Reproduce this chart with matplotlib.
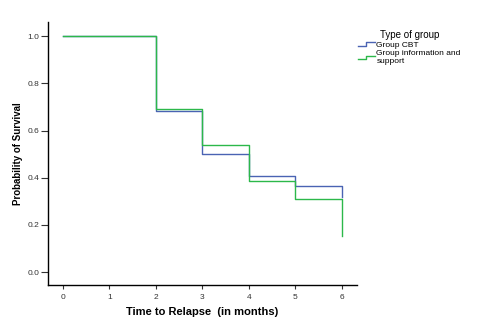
import matplotlib
matplotlib.use("Agg")
import matplotlib.pyplot as plt
from matplotlib.lines import Line2D
from matplotlib.legend_handler import HandlerBase

plt.rcParams['font.family'] = ['Liberation Sans', 'DejaVu Sans']

# Kaplan-Meier survival steps (time in months)
times = [0, 2, 3, 4, 5, 6]
surv_cbt = [1.0, 0.682, 0.500, 0.409, 0.364, 0.318]
surv_info = [1.0, 0.692, 0.538, 0.385, 0.308, 0.154]

groups = ["Group CBT", "Group information and\nsupport"]
colors = ["#4a63b3", "#2cb84a"]

x_ticks = [0, 1, 2, 3, 4, 5, 6]
y_ticks = [0.0, 0.2, 0.4, 0.6, 0.8, 1.0]


def step_xy(t, s):
    xs, ys = [t[0]], [s[0]]
    for i in range(1, len(t)):
        xs += [t[i], t[i]]
        ys += [s[i - 1], s[i]]
    return xs, ys


class StepHandler(HandlerBase):
    def create_artists(self, legend, orig, xd, yd, w, h, fontsize, trans):
        xs = [xd, xd + w * 0.5, xd + w * 0.5, xd + w]
        ys = [yd + h * 0.1, yd + h * 0.1, yd + h * 0.75, yd + h * 0.75]
        ln = Line2D(xs, ys, color=orig.get_color(), lw=1.0, transform=trans)
        return [ln]


fig = plt.figure(figsize=(4.79, 3.25), dpi=100)
ax = fig.add_axes([0.100, 0.123, 0.645, 0.809])

handles = []
for surv, c, name in zip([surv_cbt, surv_info], colors, groups):
    xs, ys = step_xy(times, surv)
    ln, = ax.plot(xs, ys, color=c, lw=1.0, label=name)
    handles.append(ln)

ax.set_xlim(-0.32, 6.32)
ax.set_ylim(-0.055, 1.06)
ax.set_xticks(x_ticks)
ax.set_yticks(y_ticks)
ax.set_yticklabels([f"{v:.1f}" for v in y_ticks])
ax.tick_params(axis='both', labelsize=6, colors='#333333', length=3, width=0.8)
ax.tick_params(axis='y', length=5, pad=1)
for side in ['top', 'right']:
    ax.spines[side].set_visible(False)
for side in ['left', 'bottom']:
    ax.spines[side].set_linewidth(1.0)

ax.set_xlabel("Time to Relapse  (in months)", fontsize=8, fontweight='bold', labelpad=4)
ax.set_ylabel("Probability of Survival", fontsize=7, fontweight='bold')
ax.yaxis.set_label_coords(-0.081, 0.5)

leg = fig.legend(handles=handles, labels=groups, title="Type of group",
                 loc='upper left', bbox_to_anchor=(0.732, 0.932),
                 frameon=False, fontsize=6, title_fontsize=7,
                 handler_map={Line2D: StepHandler()},
                 handlelength=2.0, handletextpad=0.2, labelspacing=0.15)
leg._legend_box.align = "center"

fig.savefig("out.png", dpi=100)
